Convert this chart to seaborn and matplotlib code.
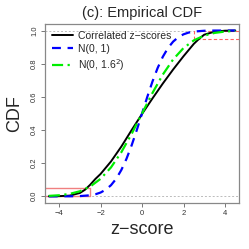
import numpy as np
import pandas as pd
import seaborn as sns
import matplotlib.pyplot as plt

# Data
z_grid = [-4.5, -4.0, -3.5, -3.0, -2.75, -2.5, -2.25, -2.0, -1.5, -1.0, -0.5, 0.0,
          0.5, 1.0, 1.5, 2.0, 2.5, 2.75, 3.0, 3.5, 4.0, 4.5]
cdf_corr = [0.0, 0.001, 0.004, 0.02, 0.04, 0.07, 0.105, 0.135, 0.21, 0.30, 0.40, 0.497,
            0.59, 0.68, 0.765, 0.845, 0.92, 0.95, 0.975, 0.993, 0.999, 1.0]

z_norm = [-4.5, -4.0, -3.5, -3.0, -2.5, -2.25, -2.0, -1.75, -1.5, -1.25, -1.0, -0.75,
          -0.5, -0.25, 0.0, 0.25, 0.5, 0.75, 1.0, 1.25, 1.5, 1.75, 2.0, 2.25, 2.5,
          3.0, 3.5, 4.0, 4.5]
cdf_n1 = [0.0, 0.0, 0.0002, 0.0013, 0.0062, 0.0122, 0.0228, 0.0401, 0.0668, 0.1056,
          0.1587, 0.2266, 0.3085, 0.4013, 0.5, 0.5987, 0.6915, 0.7734, 0.8413, 0.8944,
          0.9332, 0.9599, 0.9772, 0.9878, 0.9938, 0.9987, 0.9998, 1.0, 1.0]

z_wide = [-4.5, -4.0, -3.5, -3.0, -2.5, -2.0, -1.5, -1.0, -0.5, 0.0,
          0.5, 1.0, 1.5, 2.0, 2.5, 3.0, 3.5, 4.0, 4.5]
cdf_n16 = [0.0025, 0.0062, 0.0144, 0.0304, 0.0591, 0.1056, 0.1742, 0.2660, 0.3773, 0.5,
           0.6227, 0.7340, 0.8258, 0.8944, 0.9409, 0.9696, 0.9856, 0.9938, 0.9975]

q_low, q_high = -2.49, 2.49
p_low, p_high = 0.05, 0.95

sns.set_theme(style="white")
plt.rcParams['font.family'] = ['Liberation Sans', 'DejaVu Sans']

fig = plt.figure(figsize=(2.49, 2.49), dpi=100)
ax = fig.add_axes([0.181, 0.185, 0.779, 0.719])

xlim = (-4.68, 4.68)
# reference lines at 0 and 1
ax.axhline(0, color='#bbbbbb', lw=0.7, ls=(0, (2, 2)))
ax.axhline(1, color='#bbbbbb', lw=0.7, ls=(0, (2, 2)))

# tail boxes
ax.plot([-6, q_low, q_low, -6], [0, 0, p_low, p_low], color='#f08080', lw=1.0)
ax.plot([6, q_high, q_high, 6], [1, 1, p_high, p_high], color='#ff6060', lw=0.8,
        ls=(0, (3, 2)))

sns.lineplot(x=z_grid, y=cdf_corr, color='black', lw=1.4, ax=ax,
             label='Correlated z\u2212scores')
sns.lineplot(x=z_norm, y=cdf_n1, color='#0000ff', lw=1.6, ax=ax,
             label='N(0, 1)', dashes=False, linestyle=(0, (4, 3)))
sns.lineplot(x=z_wide, y=cdf_n16, color='#00ee00', lw=1.6, ax=ax,
             label='N(0, 1.6$^2$)', linestyle=(0, (5, 2, 1, 2)))

ax.set_xlim(*xlim)
ax.set_ylim(-0.04, 1.04)
ax.set_xticks([-4, -2, 0, 2, 4])
ax.set_xticklabels(['\u22124', '\u22122', '0', '2', '4'])
ax.set_yticks([0, 0.2, 0.4, 0.6, 0.8, 1.0])
ax.set_yticklabels(['0.0', '0.2', '0.4', '0.6', '0.8', '1.0'], rotation=90, va='center')
ax.tick_params(axis='both', direction='out', length=3, width=0.7, color='#777777',
               labelsize=5.5, labelcolor='#333333', pad=2, bottom=True, left=True)
for s in ax.spines.values():
    s.set_color('#888888')
    s.set_linewidth(0.9)

ax.set_title('(c): Empirical CDF', fontsize=10.5, pad=5)
ax.set_xlabel('z\u2212score', fontsize=13, labelpad=3)
ax.set_ylabel('CDF', fontsize=13, labelpad=6)

leg = ax.legend(loc='upper left', frameon=False, fontsize=7.5, handlelength=2.0,
                borderaxespad=0.25, labelspacing=0.3, handletextpad=0.5)

fig.savefig('out.png', dpi=100)
